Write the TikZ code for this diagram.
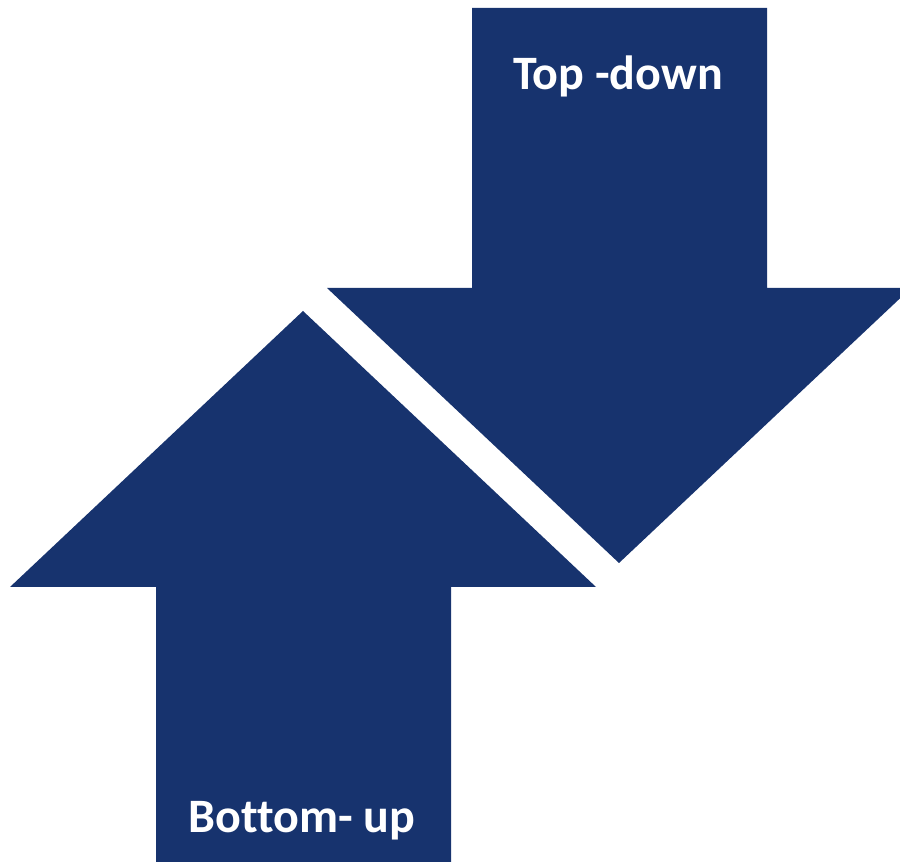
\documentclass[tikz,border=0pt]{standalone}
\usepackage{fontspec}
\setmainfont{Carlito}[Ligatures=NoCommon]
\definecolor{navy}{HTML}{17336E}
\tikzset{lab/.style={text=white,font=\bfseries\fontsize{36}{40}\selectfont,anchor=base,inner sep=0pt}}

\begin{document}
\begin{tikzpicture}[x=0.75pt,y=-0.75pt]
\useasboundingbox (0,0) rectangle (900,862);
\clip (0,0) rectangle (900,862);
% top-down arrow
\fill[navy] (472,8)--(767,8)--(767,288)--(911,288)--(619,563)--(327,288)--(472,288)--cycle;
% bottom-up arrow
\fill[navy] (156,870)--(451,870)--(451,587)--(596,587)--(303,311)--(10,587)--(156,587)--cycle;
\node[lab] (td) at (618,90) {Top -down};
\node[lab] (bu) at (302,832) {Bottom- up};
\end{tikzpicture}
\end{document}
